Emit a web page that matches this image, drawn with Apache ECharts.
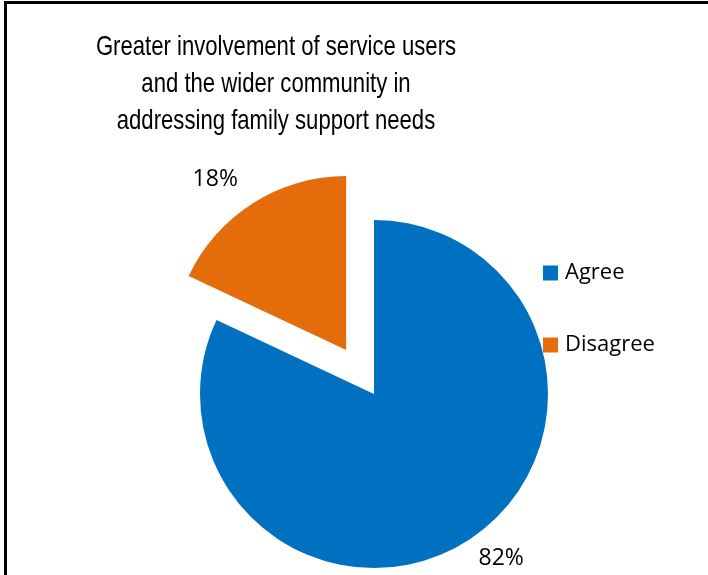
<!DOCTYPE html>
<html>
<head>
    <meta charset="utf-8"/>
    <script src="https://cdn.jsdelivr.net/npm/echarts@6/dist/echarts.min.js"></script>
    <style>
        html, body { margin: 0; padding: 0; background: #fff; }
    </style>
</head>
<body>
<div id="main" style="width: 708px;height:575px;"></div>
<script type="text/javascript">
    // data
    var categories = ['Agree', 'Disagree'];
    var values = [82, 18];
    var colors = ['#0070C0', '#E46C0A'];
    var titleText = 'Greater involvement of service users\nand the wider community in\naddressing family support needs';

    var myChart = echarts.init(document.getElementById('main'));

    var pieData = [];
    for (var i = 0; i < categories.length; i++) {
        pieData.push({
            name: categories[i],
            value: values[i],
            selected: i === 1,
            itemStyle: { color: colors[i] },
            labelLine: { show: false, length: i === 1 ? 28 : 21, length2: 0 }
        });
    }

    var option = {
        animation: false,
        legend: {
            orient: 'vertical',
            left: 538,
            top: 257,
            icon: 'rect',
            itemWidth: 15,
            itemHeight: 15,
            itemGap: 50,
            data: categories,
            textStyle: {
                fontFamily: 'Open Sans',
                fontSize: 22,
                lineHeight: 22,
                color: '#000',
                padding: [0, 0, 0, 2]
            }
        },
        graphic: [{
            type: 'rect',
            shape: { x: 5.5, y: 2.5, width: 1000, height: 1000 },
            style: { fill: 'none', stroke: '#000', lineWidth: 3 },
            silent: true
        }, {
            // title, squeezed like the original
            type: 'text',
            x: 276,
            y: 29,
            scaleX: 0.79,
            silent: true,
            style: {
                text: titleText,
                textAlign: 'center',
                textVerticalAlign: 'top',
                fontFamily: 'Liberation Sans',
                fontSize: 28,
                lineHeight: 37,
                fill: '#000'
            }
        }],
        series: [{
            type: 'pie',
            center: [374, 394],
            radius: 174,
            startAngle: 90,
            clockwise: true,
            selectedMode: 'single',
            selectedOffset: 52,
            avoidLabelOverlap: false,
            itemStyle: { borderWidth: 0 },
            emphasis: { disabled: true },
            label: {
                show: true,
                position: 'outside',
                formatter: '{c}%',
                distanceToLabelLine: 0,
                fontFamily: 'Open Sans',
                fontSize: 23,
                color: '#000'
            },
            labelLine: { show: false, length: 20, length2: 0 },
            data: pieData
        }]
    };

    myChart.setOption(option);
</script>
</body>
</html>
